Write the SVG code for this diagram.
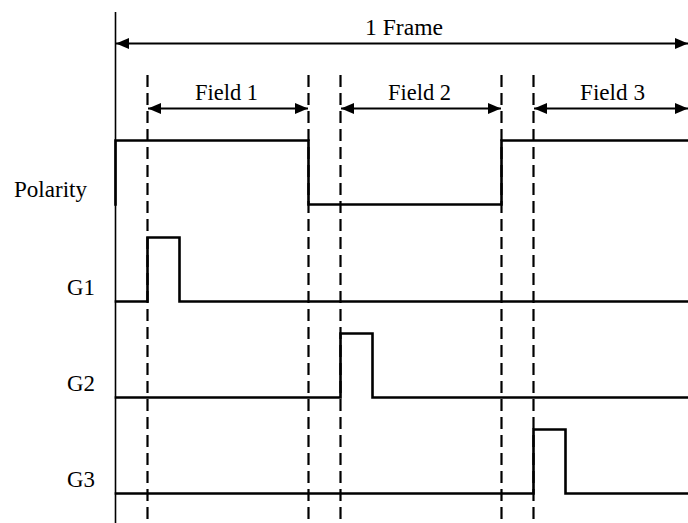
<svg xmlns="http://www.w3.org/2000/svg" width="688" height="523" viewBox="0 0 688 523">
<style>
.t{font-family:"Liberation Serif",serif;font-size:24px;fill:#000}
.dash{stroke:#000;stroke-width:2.2;stroke-dasharray:12 6;fill:none}
.sig{stroke:#000;stroke-width:2.6;fill:none;stroke-linejoin:miter;stroke-linecap:square}
.arr{stroke:#000;stroke-width:1.8;fill:none}
</style>
<defs>
<marker id="ah" viewBox="0 0 13 11" refX="13" refY="5.5" markerWidth="13" markerHeight="11" markerUnits="userSpaceOnUse" orient="auto-start-reverse">
<path d="M0,0 L13,5.5 L0,11 z" fill="#000"/>
</marker>
</defs>
<rect width="688" height="523" fill="#fff"/>
<g id="labels">
<text class="t" x="365" y="35" textLength="78" lengthAdjust="spacingAndGlyphs">1 Frame</text>
<text class="t" x="195" y="100" textLength="63" lengthAdjust="spacingAndGlyphs">Field 1</text>
<text class="t" x="388" y="100" textLength="63" lengthAdjust="spacingAndGlyphs">Field 2</text>
<text class="t" x="580" y="100" textLength="65" lengthAdjust="spacingAndGlyphs">Field 3</text>
<text class="t" x="14" y="197" textLength="73" lengthAdjust="spacingAndGlyphs">Polarity</text>
<text class="t" x="67" y="295" textLength="28" lengthAdjust="spacingAndGlyphs">G1</text>
<text class="t" x="67" y="391" textLength="28" lengthAdjust="spacingAndGlyphs">G2</text>
<text class="t" x="67" y="487" textLength="28" lengthAdjust="spacingAndGlyphs">G3</text>
</g>
<g id="axis">
<line x1="115.5" y1="12" x2="115.5" y2="523" stroke="#000" stroke-width="1.6"/>
</g>
<g id="dividers">
<line class="dash" x1="147.5" y1="75" x2="147.5" y2="523"/>
<line class="dash" x1="308.5" y1="75" x2="308.5" y2="523"/>
<line class="dash" x1="340.5" y1="75" x2="340.5" y2="523"/>
<line class="dash" x1="501.5" y1="75" x2="501.5" y2="523"/>
<line class="dash" x1="533.5" y1="75" x2="533.5" y2="523"/>
</g>
<g id="connectors">
<line class="arr" x1="116" y1="43.5" x2="688" y2="43.5" marker-start="url(#ah)" marker-end="url(#ah)"/>
<line class="arr" x1="148" y1="108.5" x2="308" y2="108.5" marker-start="url(#ah)" marker-end="url(#ah)"/>
<line class="arr" x1="341" y1="108.5" x2="501" y2="108.5" marker-start="url(#ah)" marker-end="url(#ah)"/>
<line class="arr" x1="534" y1="108.5" x2="688" y2="108.5" marker-start="url(#ah)" marker-end="url(#ah)"/>
</g>
<g id="polarity">
<path class="sig" d="M115.5,204.5 V140.5 H308.5 V204.5 H501.5 V140.5 H690"/>
</g>
<g id="g1">
<path class="sig" d="M116,301.5 H147.5 V237.5 H179.5 V301.5 H690"/>
</g>
<g id="g2">
<path class="sig" d="M116,397.5 H340.5 V333.5 H372.5 V397.5 H690"/>
</g>
<g id="g3">
<path class="sig" d="M116,493.5 H533.5 V429.5 H565.5 V493.5 H690"/>
</g>
</svg>
